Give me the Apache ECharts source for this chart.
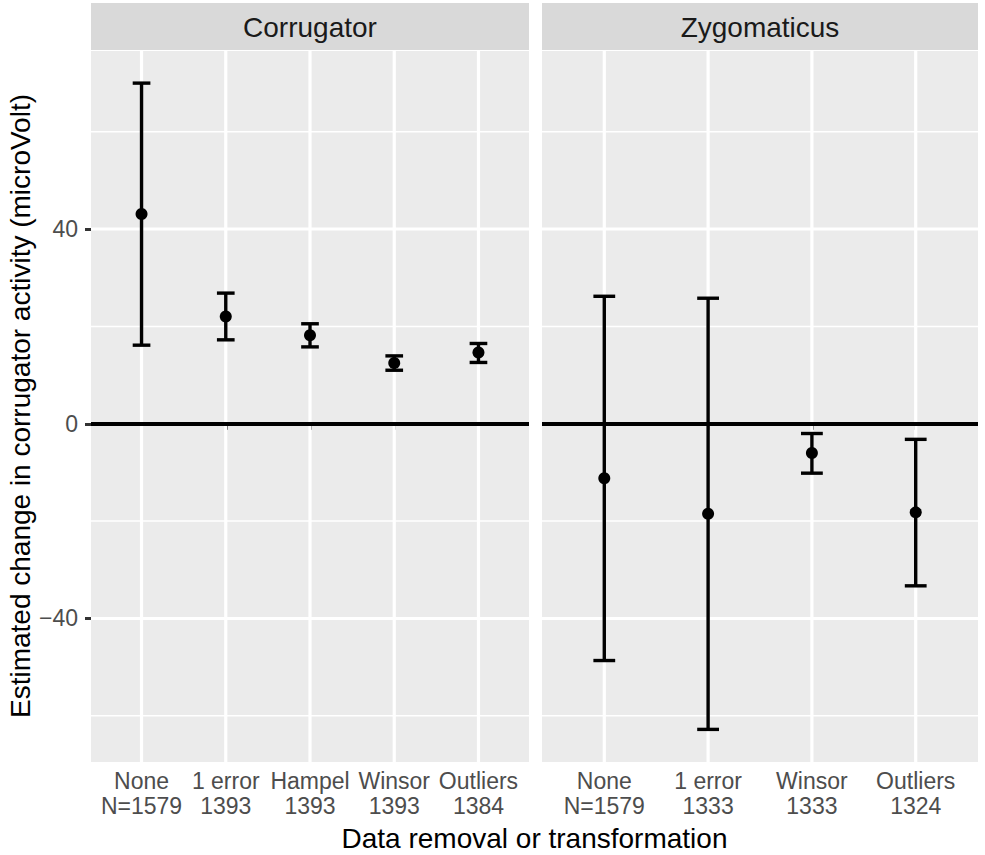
<!DOCTYPE html>
<html>
<head>
<meta charset="utf-8">
<script src="https://cdn.jsdelivr.net/npm/echarts@6/dist/echarts.min.js"></script>
<style>html,body{margin:0;padding:0;background:#fff}#chart{width:985px;height:855px}</style>
</head>
<body>
<div id="chart"></div>
<script>
// ---- data ----
const panels = ['Corrugator', 'Zygomaticus'];
const corrCats = ['None\nN=1579', '1 error\n1393', 'Hampel\n1393', 'Winsor\n1393', 'Outliers\n1384'];
const corrEst  = [43.1, 22.05, 18.2, 12.5, 14.65];
const corrLow  = [16.15, 17.25, 15.8, 11.0, 12.6];
const corrHigh = [70.0, 26.85, 20.55, 13.95, 16.5];
const zygCats  = ['None\nN=1579', '1 error\n1333', 'Winsor\n1333', 'Outliers\n1324'];
const zygEst   = [-11.2, -18.5, -6.0, -18.2];
const zygLow   = [-48.65, -62.8, -10.15, -33.3];
const zygHigh  = [26.2, 25.8, -2.0, -3.2];
const yMajor = [-40, 0, 40];
const yMinor = [-60, -20, 20, 60];
const yMin = -69.5, yMax = 76.6;

const FONT = '"Liberation Sans", Arial, sans-serif';
const chart = echarts.init(document.getElementById('chart'), null, {renderer: 'svg'});

const gridDefs = [
  {left: 91, width: 438, top: 51, height: 711},
  {left: 542, width: 436, top: 51, height: 711}
];
const catSets = [corrCats, zygCats];
const estSets = [corrEst, zygEst];
const lowSets = [corrLow, zygLow];
const highSets = [corrHigh, zygHigh];

const grids = [], xAxes = [], yAxes = [], series = [];
gridDefs.forEach((g, p) => {
  grids.push(Object.assign({show: true, backgroundColor: '#EBEBEB', borderWidth: 0, containLabel: false}, g));
  const cats = catSets[p];
  const xs = cats.map((c, i) => i + 1);
  xAxes.push({
    type: 'value', gridIndex: p, min: 0.4, max: cats.length + 0.6,
    axisLine: {show: false},
    splitLine: {show: false},
    axisTick: {show: true, customValues: xs, length: 6, lineStyle: {color: '#333333', width: 3}},
    axisLabel: {show: true, customValues: xs, margin: 6, color: '#4D4D4D', fontSize: 23, fontFamily: FONT, lineHeight: 25,
      formatter: v => cats[Math.round(v) - 1] || ''}
  });
  yAxes.push({
    type: 'value', gridIndex: p, min: yMin, max: yMax,
    axisLine: {show: false},
    splitLine: {show: false},
    axisTick: {show: p === 0, customValues: yMajor, length: 6, lineStyle: {color: '#333333', width: 3}},
    axisLabel: {show: p === 0, customValues: yMajor, margin: 13, color: '#4D4D4D', fontSize: 23, fontFamily: FONT,
      formatter: v => String(v).replace('-', '\u2212')}
  });
  // grid lines
  const gl = [];
  yMinor.forEach(v => gl.push([1, v, 0, 1.5]));
  yMajor.forEach(v => gl.push([1, v, 0, 3]));
  xs.forEach(v => gl.push([v, 0, 1, 3.2]));
  series.push({
    type: 'custom', xAxisIndex: p, yAxisIndex: p, z: 1, silent: true, animation: false,
    data: gl,
    renderItem(params, api) {
      const cs = params.coordSys;
      const isV = api.value(2) === 1;
      const w = api.value(3);
      let shape;
      if (isV) {
        const x = api.coord([api.value(0), 0])[0];
        shape = {x1: x, y1: cs.y, x2: x, y2: cs.y + cs.height};
      } else {
        const y = api.coord([1, api.value(1)])[1];
        shape = {x1: cs.x, y1: y, x2: cs.x + cs.width, y2: y};
      }
      return {type: 'line', shape, style: {stroke: '#FFFFFF', lineWidth: w}};
    }
  });
  // error bars
  const eb = xs.map((x, i) => [x, lowSets[p][i], highSets[p][i]]);
  series.push({
    type: 'custom', xAxisIndex: p, yAxisIndex: p, z: 3, silent: true, animation: false,
    data: eb,
    renderItem(params, api) {
      const x = api.value(0);
      const lo = api.coord([x, api.value(1)]);
      const hi = api.coord([x, api.value(2)]);
      const half = api.size([0.21, 0])[0] / 2;
      const st = {stroke: '#000000', lineWidth: 3.4};
      return {type: 'group', children: [
        {type: 'line', shape: {x1: hi[0], y1: hi[1], x2: lo[0], y2: lo[1]}, style: st},
        {type: 'line', shape: {x1: hi[0] - half, y1: hi[1], x2: hi[0] + half, y2: hi[1]}, style: st},
        {type: 'line', shape: {x1: lo[0] - half, y1: lo[1], x2: lo[0] + half, y2: lo[1]}, style: st}
      ]};
    }
  });
  // points + zero line
  series.push({
    type: 'scatter', xAxisIndex: p, yAxisIndex: p, z: 4, silent: true, animation: false,
    symbol: 'circle', symbolSize: 12,
    itemStyle: {color: '#000000', opacity: 1},
    data: xs.map((x, i) => [x, estSets[p][i]]),
    markLine: {
      silent: true, symbol: ['none', 'none'], animation: false,
      label: {show: false},
      lineStyle: {color: '#000000', width: 4, type: 'solid'},
      emphasis: {disabled: true},
      data: [{yAxis: 0}]
    }
  });
});

const graphics = [];
gridDefs.forEach((g, p) => {
  graphics.push({type: 'rect', shape: {x: g.left, y: 3, width: g.width, height: 47}, style: {fill: '#D9D9D9'}, silent: true});
  graphics.push({type: 'text', x: g.left + g.width / 2, y: 27, silent: true,
    style: {text: panels[p], font: '28px ' + FONT, fill: '#1A1A1A', textAlign: 'center', textVerticalAlign: 'middle'}});
});
graphics.push({type: 'text', x: 534.5, y: 838, silent: true,
  style: {text: 'Data removal or transformation', font: '28px ' + FONT, fill: '#000000', textAlign: 'center', textVerticalAlign: 'middle'}});
graphics.push({type: 'text', x: 20, y: 406, rotation: Math.PI / 2, silent: true,
  style: {text: 'Estimated change in corrugator activity (microVolt)', font: '28px ' + FONT, fill: '#000000', textAlign: 'center', textVerticalAlign: 'middle'}});

chart.setOption({
  animation: false,
  backgroundColor: '#FFFFFF',
  grid: grids, xAxis: xAxes, yAxis: yAxes, series: series,
  graphic: graphics
});
</script>
</body>
</html>
